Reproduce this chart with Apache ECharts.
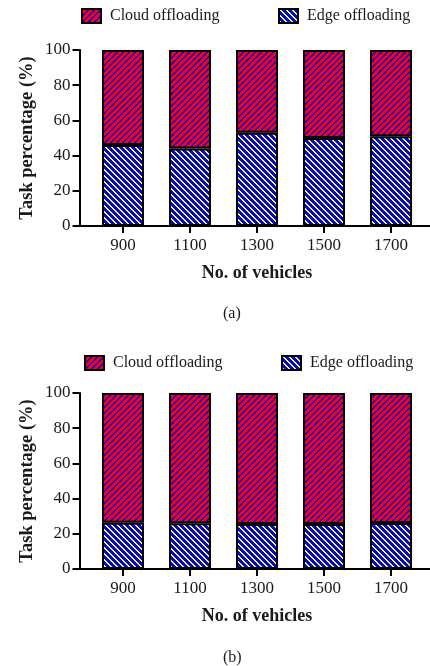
<!DOCTYPE html>
<html><head><meta charset="utf-8">
<script src="https://cdn.jsdelivr.net/npm/echarts@6/dist/echarts.min.js"></script>
<style>html,body{margin:0;padding:0;background:#fff}#c{width:430px;height:666px}</style>
</head><body><div id="c"></div>
<script>
const categories = ['900', '1100', '1300', '1500', '1700'];
const edgeA = [46, 44, 53, 50, 51];
const cloudA = [54, 56, 47, 50, 49];
const edgeB = [26.3, 26, 25.6, 25.6, 26.2];
const cloudB = [73.7, 74, 74.4, 74.4, 73.8];
const yTicks = { min: 0, max: 100, interval: 20 };
const seriesNames = ['Cloud offloading', 'Edge offloading'];
const xName = 'No. of vehicles';
const yName = 'Task percentage (%)';
const panelLabels = ['(a)', '(b)'];

function makePattern(bg, fg, dir, period, thick) {
  const c = document.createElement('canvas');
  c.width = period; c.height = period;
  const ctx = c.getContext('2d');
  ctx.fillStyle = bg; ctx.fillRect(0, 0, period, period);
  ctx.fillStyle = fg;
  for (let y = 0; y < period; y++) for (let x = 0; x < period; x++) {
    const k = dir === '/' ? (x + y) % period : (((x - y) % period) + period) % period;
    if (k < thick) ctx.fillRect(x, y, 1, 1);
  }
  return c;
}
const cloudPat = { image: makePattern('#ff0000', '#0000ff', '/', 6, 2), repeat: 'repeat' };
const edgePat = { image: makePattern('#0000ff', '#ffff00', '\\', 6, 2), repeat: 'repeat' };

const FONT = 'Liberation Serif';
const TXT = '#1a1a1a';
const chart = echarts.init(document.getElementById('c'), null, { renderer: 'canvas' });

function panel(idx, top) {
  const g = idx * 2;
  return {
    grids: [
      { left: 89.5, width: 335, top: top, height: 176 },
      { left: 79, right: 0, top: top, height: 176 }
    ],
    xAxis: [
      { gridIndex: g, type: 'category', data: categories,
        axisLine: { show: false },
        axisTick: { show: true, alignWithLabel: true, length: 7, lineStyle: { color: '#000', width: 2 } },
        axisLabel: { color: TXT, fontFamily: FONT, fontSize: 17, margin: 11 },
        name: xName, nameLocation: 'middle', nameGap: 38,
        nameTextStyle: { color: TXT, fontFamily: FONT, fontSize: 18, fontWeight: 'bold' } },
      { gridIndex: g + 1, type: 'value', min: 0, max: 1,
        axisLine: { show: true, lineStyle: { color: '#000', width: 2 } },
        axisTick: { show: false }, axisLabel: { show: false }, splitLine: { show: false } }
    ],
    yAxis: [
      { gridIndex: g, type: 'value', min: yTicks.min, max: yTicks.max, interval: yTicks.interval,
        offset: 10,
        axisLine: { show: true, lineStyle: { color: '#000', width: 2 } },
        axisTick: { show: true, length: 7, lineStyle: { color: '#000', width: 2 } },
        axisLabel: { color: TXT, fontFamily: FONT, fontSize: 17, margin: 9 },
        splitLine: { show: false },
        name: yName, nameLocation: 'middle', nameGap: 43, nameMoveOverlap: false,
        nameTextStyle: { color: TXT, fontFamily: FONT, fontSize: 18.5, fontWeight: 'bold' } },
      { gridIndex: g + 1, type: 'value', min: 0, max: 1, show: false }
    ]
  };
}

const pA = panel(0, 50);
const pB = panel(1, 393);

function barSeries(name, data, axisIdx, stack, pat) {
  return {
    name: name, type: 'bar', stack: stack, data: data,
    xAxisIndex: axisIdx, yAxisIndex: axisIdx, barWidth: 42,
    itemStyle: { color: pat, borderColor: '#000', borderWidth: 2 },
    emphasis: { disabled: true }
  };
}

function legendItem(name, left, top) {
  return {
    data: [name], left: left, top: top, padding: 0, itemWidth: 19, itemHeight: 14,
    icon: 'rect', selectedMode: false,
    textStyle: { color: TXT, fontFamily: FONT, fontSize: 16, padding: [0, 0, 0, 4] }
  };
}

chart.setOption({
  animation: false,
  backgroundColor: '#fff',
  title: [
    { text: panelLabels[0], left: 223, top: 306, padding: 0, textStyle: { color: TXT, fontFamily: FONT, fontSize: 16, fontWeight: 'normal' } },
    { text: panelLabels[1], left: 223, top: 650, padding: 0, textStyle: { color: TXT, fontFamily: FONT, fontSize: 16, fontWeight: 'normal' } }
  ],
  legend: [
    legendItem(seriesNames[0], 81, 8),
    legendItem(seriesNames[1], 278, 8),
    legendItem(seriesNames[0], 84, 355),
    legendItem(seriesNames[1], 281, 355)
  ],
  grid: pA.grids.concat(pB.grids),
  xAxis: pA.xAxis.concat(pB.xAxis),
  yAxis: pA.yAxis.concat(pB.yAxis),
  series: [
    barSeries(seriesNames[1], edgeA, 0, 'a', edgePat),
    barSeries(seriesNames[0], cloudA, 0, 'a', cloudPat),
    barSeries(seriesNames[1], edgeB, 2, 'b', edgePat),
    barSeries(seriesNames[0], cloudB, 2, 'b', cloudPat)
  ]
});
</script></body></html>
